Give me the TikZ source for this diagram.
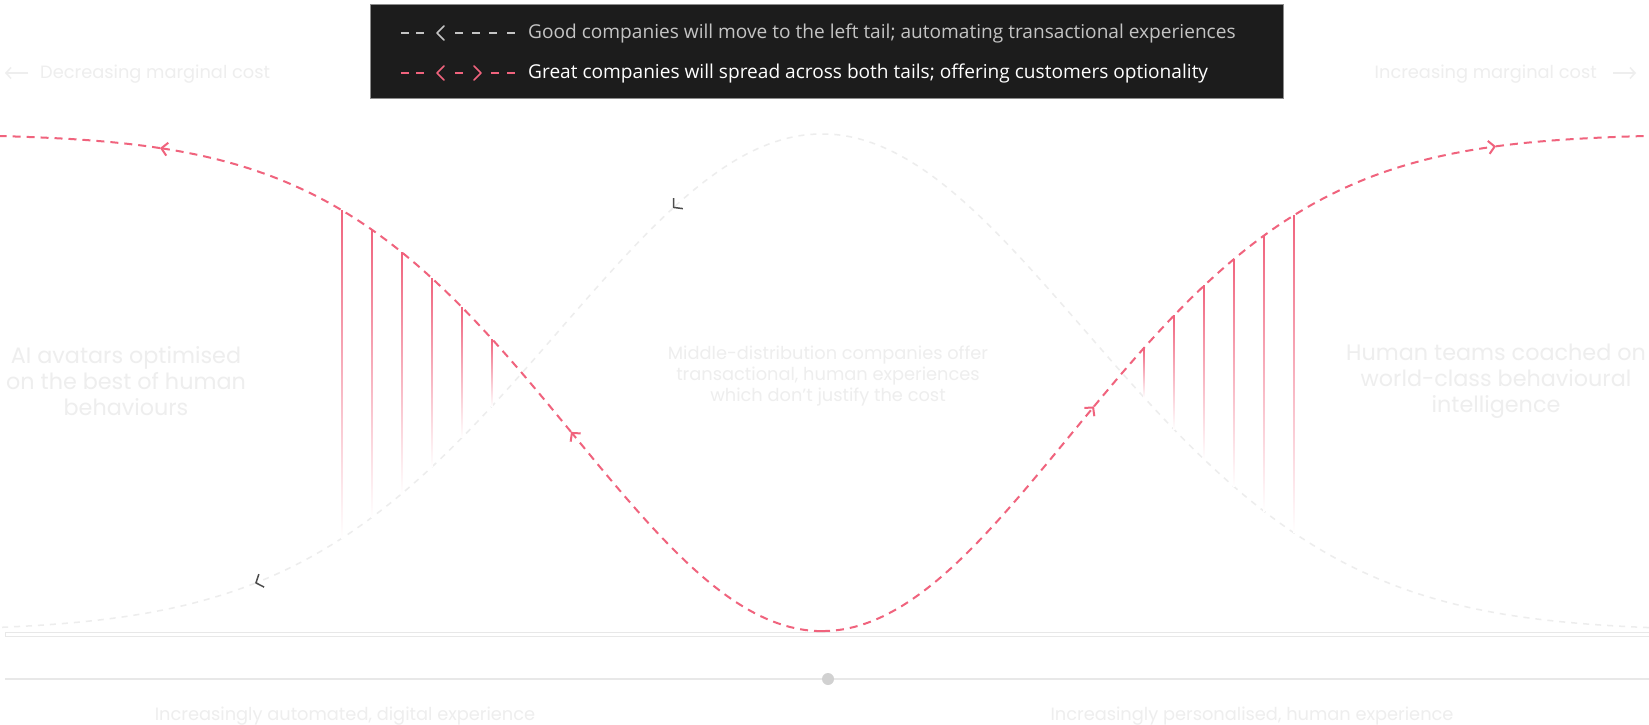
\documentclass[tikz,border=0pt]{standalone}
\usepackage{fontspec}
\setmainfont{Poppins}
\newfontfamily\legendfont{Open Sans}
\usetikzlibrary{arrows.meta}
\definecolor{pinkc}{HTML}{F0637D}
\definecolor{legbg}{HTML}{1C1C1C}
\definecolor{faint}{HTML}{EEEEEE}
\definecolor{faintline}{HTML}{EDEDED}
\definecolor{leggray}{HTML}{C4C4C4}
\tikzset{
  legendbox/.style={draw=black!45, line width=1pt, fill=legbg, minimum width=913pt, minimum height=93pt, inner sep=0pt},
  legtext/.style={font=\legendfont\fontsize{19.1}{22}\selectfont, inner sep=0pt, anchor=west},
  faintlabel/.style={text=faint, font=\fontsize{17.8}{21}\selectfont, inner sep=0pt},
  faintbig/.style={text=faint, font=\fontsize{22.3}{26}\selectfont, inner sep=0pt, align=center},
  faintmid/.style={text=faint, font=\fontsize{17.8}{21}\selectfont, inner sep=0pt, align=center},
  pinkline/.style={pinkc, line width=2pt, dash pattern=on 8pt off 6pt},
  bellline/.style={faintline, line width=1.5pt, dash pattern=on 6pt off 6pt},
  pinktip/.style={-{Straight Barb[length=6pt,width=13pt]}},
  graytip/.style={-{Straight Barb[length=6pt,width=14pt,color=black!70]}},
  faintarrow/.style={faint, line width=1.5pt, -{Straight Barb[length=5pt,width=11pt]}},
  chev/.style={line width=1.6pt, line cap=round, line join=round},
  legdash/.style={line width=1.6pt},
}
\begin{document}
\begin{tikzpicture}[x=1pt,y=-1pt,
  declare function={pk(\x)=134+497*exp(-((\x-822)/248)^2/2); bl(\x)=631-497*exp(-((\x-822)/262)^2/2);}]
\useasboundingbox (0,0) rectangle (1649,725);
\fill[white] (0,0) rectangle (1649,725);

% axis lines
\draw[black!9, line width=0.8pt] (5,632.5) rectangle (1649,636.5);
\draw[black!9, line width=1.5pt] (5,679) -- (1649,679);
\fill[black!18] (828,679) circle (6);

% faint bell curve (good companies)
\draw[bellline, graytip] plot[domain=1649:673, samples=80, smooth] (\x,{bl(\x)});
\draw[bellline, graytip] plot[domain=673:255, samples=50, smooth] (\x,{bl(\x)});
\draw[bellline] plot[domain=255:0, samples=30, smooth] (\x,{bl(\x)});

% vertical gradient lines
\foreach \d in {330,360,...,480}{
  \pgfmathsetmacro\xl{822-\d}
  \pgfmathsetmacro\xr{814+\d}
  \foreach \xx in {\xl,\xr}{
    \pgfmathsetmacro\yt{pk(\xx)}
    \pgfmathsetmacro\yb{bl(\xx)}
    \shade[top color=pinkc, middle color=pinkc!22, bottom color=white] (\xx-0.8,\yt) rectangle (\xx+0.8,\yb);
  }
}

% pink curve (great companies)
\draw[pinkline, pinktip] plot[domain=822:571, samples=50, smooth] (\x,{pk(\x)});
\draw[pinkline, pinktip] plot[domain=571:160, samples=60, smooth] (\x,{pk(\x)});
\draw[pinkline] plot[domain=160:0, samples=30, smooth] (\x,{pk(\x)});
\draw[pinkline, pinktip] plot[domain=822:1094, samples=50, smooth] (\x,{pk(\x)});
\draw[pinkline, pinktip] plot[domain=1094:1496, samples=60, smooth] (\x,{pk(\x)});
\draw[pinkline] plot[domain=1496:1649, samples=30, smooth] (\x,{pk(\x)});

% legend
\node[legendbox] (legend) at (826.5,51.5) {};
\foreach \a in {401,416,455,472,489,507}{
  \draw[leggray, legdash] (\a,33) -- ++(8,0);
}
\draw[leggray, chev] (444,26) -- (437,33) -- (444,40);
\foreach \a in {401,416,455,491,507}{
  \draw[pinkc, legdash] (\a,73) -- ++(8,0);
}
\draw[pinkc, chev] (444,66) -- (437,73) -- (444,80);
\draw[pinkc, chev] (474,66) -- (481,73) -- (474,80);
\node[legtext, text=leggray] (good) at (528,33) {Good companies will move to the left tail; automating transactional experiences};
\node[legtext, text=white] (great) at (528,73) {Great companies will spread across both tails; offering customers optionality};

% faint labels
\coordinate (decA) at (28,73);
\coordinate (decB) at (5,73);
\draw[faintarrow] (decA) -- (decB);
\coordinate (incA) at (1613,73);
\coordinate (incB) at (1636,73);
\draw[faintarrow] (incA) -- (incB);
\node[faintlabel, anchor=west] (dec) at (40,74) {Decreasing marginal cost};
\node[faintlabel, anchor=east] (inc) at (1597,74) {Increasing marginal cost};
\node[faintbig] (ai) at (126,381) {AI avatars optimised\\on the best of human\\behaviours};
\node[faintmid] (mid) at (828,376) {Middle-distribution companies offer\\transactional, human experiences\\which don’t justify the cost};
\node[faintbig] (hum) at (1496,381) {Human teams coached on\\world-class behavioural\\intelligence};
\node[faintlabel] (auto) at (345,716) {Increasingly automated, digital experience};
\node[faintlabel] (pers) at (1252,716) {Increasingly personalised, human experience};
\end{tikzpicture}
\end{document}
